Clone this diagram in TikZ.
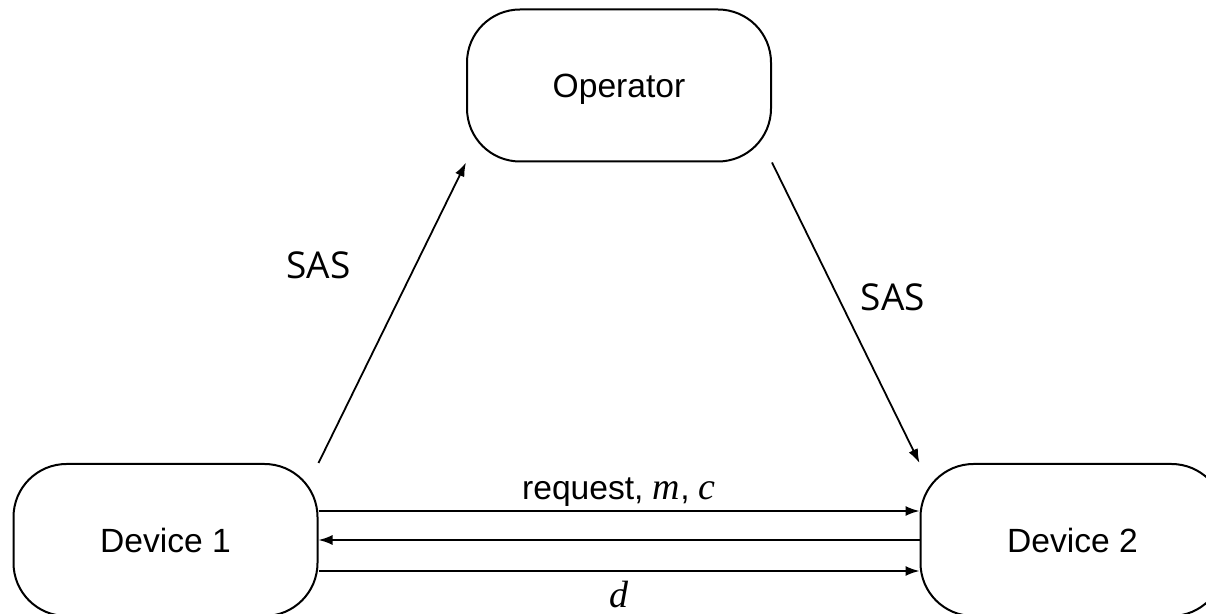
\documentclass[tikz,border=0pt]{standalone}
\usepackage{fontspec}
\setmainfont{Liberation Sans}
\newfontfamily\labelfont{Open Sans}
\newfontfamily\varfont{Liberation Serif}
\usetikzlibrary{arrows.meta}
\newcommand{\var}[1]{{\varfont\itshape\fontsize{19pt}{20pt}\selectfont #1}}
\begin{document}
\begin{tikzpicture}[x=0.5pt,y=-0.5pt,
  party/.style={draw, line width=1pt, rounded corners=26.5pt,
    minimum width=152pt, minimum height=76pt, inner sep=0pt, text depth=0pt,
    font=\fontsize{16.8pt}{20pt}\selectfont},
  link/.style={line width=0.9pt, -{Latex[length=7pt,width=5pt]}},
  saslabel/.style={font=\labelfont\fontsize{18.5pt}{22pt}\selectfont},
  msglabel/.style={font=\fontsize{16.8pt}{20pt}\selectfont, inner sep=2pt}]
  \useasboundingbox (0,0) rectangle (1206,614);
  \begin{scope}
    \clip (0,0) rectangle (1206,614);
    % the three parties
    \node[party] (op) at (619,85.5) {Operator};
    \node[party] (d1) at (165.5,540) {Device 1};
    \node[party] (d2) at (1072.5,540) {Device 2};

    % attestation links through the operator
    \draw[link] (d1.north east) -- (op.south west);
    \draw[link] (op.south east) -- (d2.north west);

    % direct exchange between the devices
    \draw[link] ([yshift=14.5pt]d1.east) -- ([yshift=14.5pt]d2.west)
      node[msglabel, midway, above] (req) {request, \var{m}, \var{c}};
    \draw[link] (d2.west) -- (d1.east);
    \draw[link] ([yshift=-15.5pt]d1.east) -- ([yshift=-15.5pt]d2.west)
      node[msglabel, midway, below, yshift=-2.5pt] (dl) {\var{d}};
  \end{scope}

  \node[saslabel] (sas1) at (318.5,265) {SAS};
  \node[saslabel] (sas2) at (893,297) {SAS};
\end{tikzpicture}
\end{document}
